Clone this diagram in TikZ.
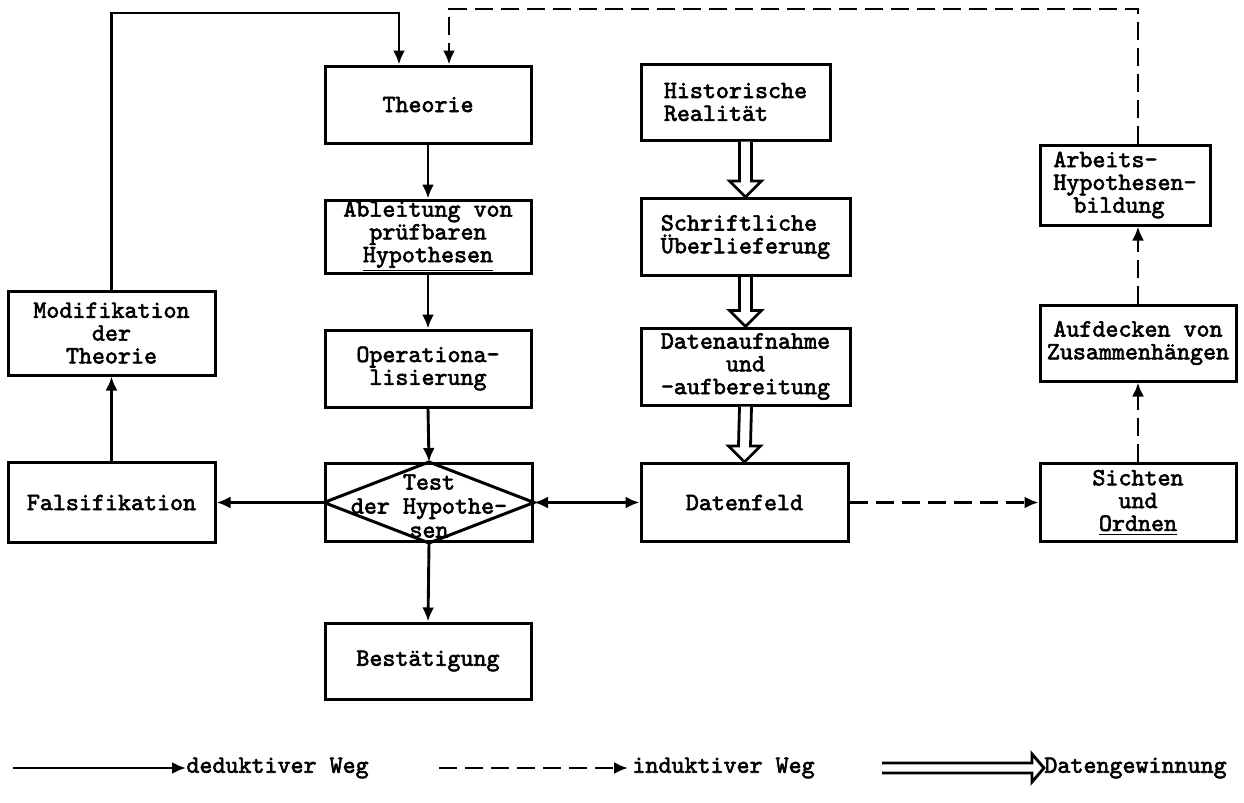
\documentclass[tikz,border=0pt]{standalone}
\usepackage{fontspec}
\newfontfamily\twfam{lmmono10-regular}[Extension=.otf, FakeBold=2.4]
\usetikzlibrary{arrows.meta,calc}
\newcommand\tw{\twfam\fontsize{12.4}{11.4}\selectfont}
\newcommand\hollowdown[2]{%
  \draw[hollow] ($(#1)+(-6,0)$) -- ($(#2)+(-6,-16)$) -- ($(#2)+(-16,-16)$) -- (#2)
    -- ($(#2)+(16,-16)$) -- ($(#2)+(6,-16)$) -- ($(#1)+(6,0)$);}
\newcommand\hollowright[2]{%
  \draw[hollow] ($(#1)+(0,-5)$) -- ($(#2)+(-12,-5)$) -- ($(#2)+(-12,-14)$) -- (#2)
    -- ($(#2)+(-12,14)$) -- ($(#2)+(-12,5)$) -- ($(#1)+(0,5)$);}
\begin{document}
\begin{tikzpicture}[x=0.5pt,y=-0.5pt,
  box/.style={draw, line width=1.5pt, inner sep=0pt, font=\tw, align=center},
  ded/.style={line width=1.45pt, -{Latex[length=7pt,width=6pt]}},
  ind/.style={ded, dash pattern=on 9pt off 4pt},
  hollow/.style={line width=1.4pt, fill=white, line join=miter},
  lab/.style={font=\tw, inner sep=0pt}]
\useasboundingbox (0,0) rectangle (1244,803);
% central column
\node[box, minimum width=103pt, minimum height=38.5pt] (theorie) at (428,104.5) {Theorie};
\node[box, minimum width=103pt, minimum height=36.5pt] (ableit) at (428,236.5) {Ableitung von\\prüfbaren\\\underline{Hypothesen}};
\node[box, minimum width=103pt, minimum height=38.5pt] (oper) at (428,368.5) {Operationa-\\lisierung};
\node[box, minimum width=103.5pt, minimum height=39pt] (test) at (429,502.5) {};
\draw[line width=1.5pt] (test.west) -- (test.north) -- (test.east) -- (test.south) -- cycle;
\node[lab, align=center, font=\tw\fontsize{12.4}{12}\selectfont] (testt) at (429,506) {Test\\der Hypothe-\\sen};
\node[box, minimum width=103pt, minimum height=38pt] (best) at (428,661) {Bestätigung};
% left column
\node[box, minimum width=103.5pt, minimum height=40pt] (fals) at (111.5,502.5) {Falsifikation};
\node[box, minimum width=103.5pt, minimum height=42pt] (modi) at (111.5,333) {Modifikation\\der\\Theorie};
% data column
\node[box, align=left, minimum width=94.5pt, minimum height=38pt] (hist) at (735.5,102) {Historische\\Realität};
\node[box, align=left, minimum width=104.5pt, minimum height=38.5pt] (schr) at (745.5,237) {Schriftliche\\Überlieferung};
\node[box, minimum width=104.5pt, minimum height=38.5pt] (dauf) at (745.5,366.5) {Datenaufnahme\\und\\-aufbereitung};
\node[box, minimum width=103.5pt, minimum height=39pt] (dfeld) at (744.5,502.5) {Datenfeld};
% right column
\node[box, minimum width=98pt, minimum height=39pt] (sicht) at (1138,502.5) {Sichten\\und\\\underline{Ordnen}};
\node[box, minimum width=98pt, minimum height=38pt] (aufd) at (1138,343) {Aufdecken von\\Zusammenhängen};
\node[box, align=left, minimum width=85pt, minimum height=40pt] (arb) at (1125,185) {Arbeits-\\Hypothesen-\\\hspace*{10pt}bildung};
% deductive connectors
\draw[ded] (theorie) -- (ableit);
\draw[ded] (ableit) -- (oper);
\draw[ded] (oper.south) -- (test.north);
\draw[ded] (test.south) -- (best.north);
\draw[ded] (test.west) -- (fals.east);
\draw[ded] (fals) -- (modi);
\coordinate (topL) at (112,13);
\coordinate (tin1) at ($(theorie.north)+(-29,0)$);
\draw[ded] (modi.north) -- (modi.north |- topL) -| (tin1);
\draw[line width=1.45pt, {Latex[length=7pt,width=6pt]}-{Latex[length=7pt,width=6pt]}] (test.east) -- (dfeld.west);
% inductive connectors
\draw[ind] (dfeld.east) -- (sicht.west);
\draw[ind] (sicht.north) -- (aufd.south);
\draw[ind] (aufd.north) -- (aufd.north |- arb.south);
\coordinate (topR) at (1138,9);
\coordinate (tin2) at ($(theorie.north)+(21,0)$);
\draw[ind] (aufd.north |- arb.north) -- (topR) -| (tin2);
% data acquisition
\hollowdown{hist.south -| schr.north}{schr.north}
\hollowdown{schr.south}{dauf.north}
\hollowdown{dauf.south}{dfeld.north}
% legend
\coordinate (l1a) at (13,768);
\node[lab, anchor=west] (l1t) at (186,768) {deduktiver Weg};
\draw[ded] (l1a) -- (l1t.west);
\coordinate (l2a) at (439,768);
\node[lab, anchor=west] (l2t) at (632,768) {induktiver Weg};
\draw[ind] (l2a) -- ($(l2t.west)+(-4,0)$);
\coordinate (l3a) at (882,768);
\node[lab, anchor=west] (l3t) at (1044,768) {Datengewinnung};
\hollowright{l3a}{l3t.west}
\end{tikzpicture}
\end{document}
